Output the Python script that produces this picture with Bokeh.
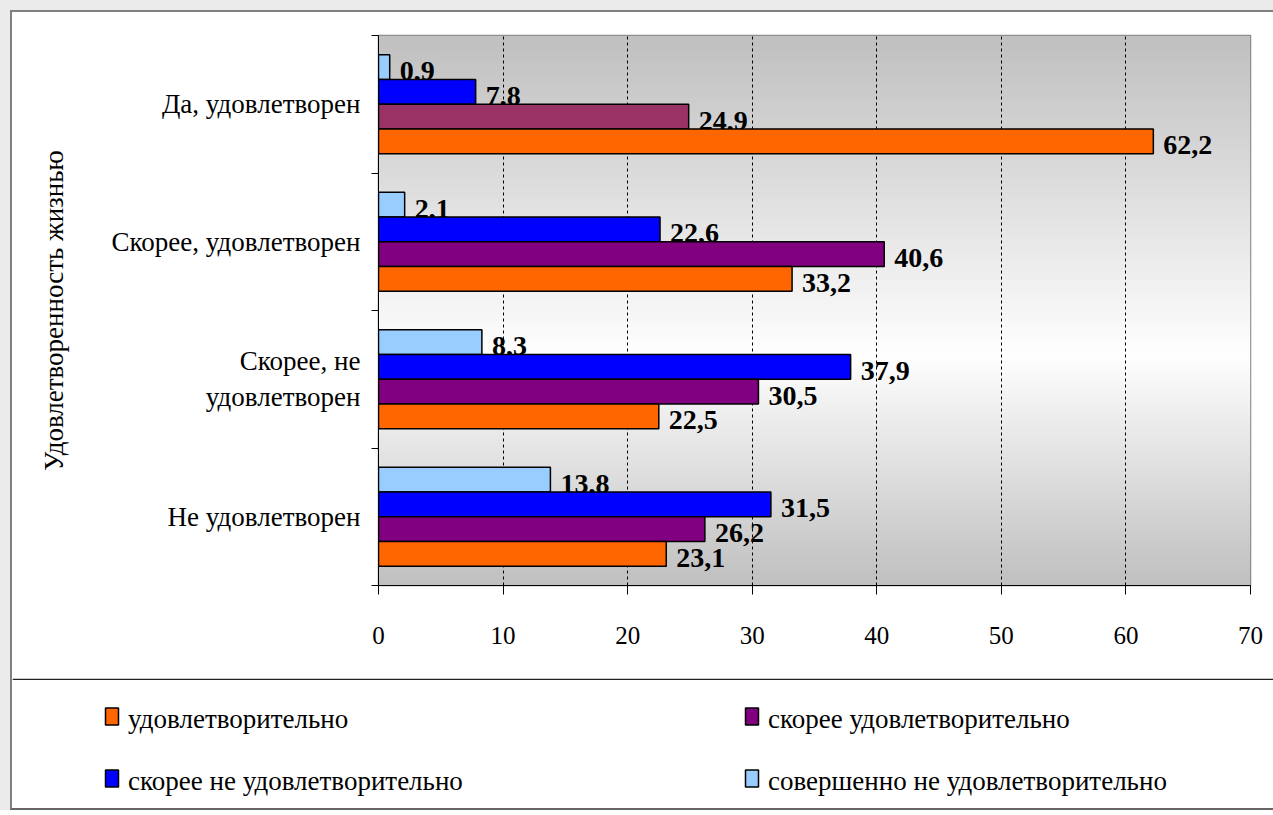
import numpy as np
from bokeh.plotting import figure
from bokeh.layouts import column
from bokeh.models import Range1d, FixedTicker, ColumnDataSource, Span
from bokeh.core.properties import value
from bokeh.embed import file_html
from bokeh.resources import INLINE

# ---------------- data ----------------
categories = ["Да, удовлетворен", "Скорее, удовлетворен",
              "Скорее, не\nудовлетворен", "Не удовлетворен"]
series_names = ["удовлетворительно", "скорее удовлетворительно",
                "скорее не удовлетворительно", "совершенно не удовлетворительно"]
udovl = [62.2, 33.2, 22.5, 23.1]
skoree_udovl = [24.9, 40.6, 30.5, 26.2]
skoree_ne = [7.8, 22.6, 37.9, 31.5]
sovsem_ne = [0.9, 2.1, 8.3, 13.8]
x_ticks = [0, 10, 20, 30, 40, 50, 60, 70]
axis_title = "Удовлетворенность жизнью"

# ---------------- styles ----------------
col_udovl = ["#FF6600"] * 4
col_skoree_udovl = ["#993366", "#800080", "#800080", "#800080"]
col_skoree_ne = ["#0000FF"] * 4
col_sovsem_ne = ["#99CCFF"] * 4
legend_colors = ["#FF6600", "#800080", "#0000FF", "#99CCFF"]
SERIF = "Liberation Serif"

n = len(categories)
centers = [n - 0.5 - i for i in range(n)]
h = 0.18

W = 1261
p = figure(width=W, height=666, output_backend="svg", toolbar_location=None,
           x_range=Range1d(0, 70), y_range=Range1d(0, n),
           min_border_left=366, min_border_right=23,
           min_border_top=23, min_border_bottom=93)
p.frame_align = False
p.border_fill_color = "white"
p.background_fill_color = "#c0c0c0"
p.outline_line_color = "#808080"
p.outline_line_width = 1.5

# gradient background of plot area (grey - white - grey)
N = 300
t = np.linspace(0, 1, N)
tc = 0.42
s = np.where(t < tc, t / tc, (1 - t) / (1 - tc))
g = (192 + 63 * s).astype(np.uint8)
img = np.empty((N, 1), dtype=np.uint32)
view = img.view(dtype=np.uint8).reshape((N, 1, 4))
view[:, 0, 0] = g
view[:, 0, 1] = g
view[:, 0, 2] = g
view[:, 0, 3] = 255
p.image_rgba(image=[img], x=0, y=0, dw=70, dh=n, level="image")

# grid
p.ygrid.visible = False
p.xgrid.ticker = FixedTicker(ticks=x_ticks[1:-1])
p.xgrid.grid_line_color = "black"
p.xgrid.grid_line_dash = "3 3"
p.xgrid.grid_line_width = 1

# x axis
xa = p.xaxis[0]
xa.ticker = FixedTicker(ticks=x_ticks)
xa.axis_line_color = "black"
xa.major_tick_line_color = "black"
xa.major_tick_out = 9
xa.major_tick_in = 0
xa.minor_tick_line_color = None
xa.major_label_text_font = SERIF
xa.major_label_text_font_size = "25px"
xa.major_label_text_color = "black"
xa.major_label_standoff = 32

# y axis
ya = p.yaxis[0]
ya.ticker = FixedTicker(ticks=centers, minor_ticks=list(range(n + 1)))
ya.major_label_overrides = {c: cat for c, cat in zip(centers, categories)}
ya.axis_line_color = "black"
ya.major_tick_out = 0
ya.major_tick_in = 0
ya.minor_tick_out = 7
ya.minor_tick_in = 0
ya.minor_tick_line_color = "black"
ya.major_label_text_font = SERIF
ya.major_label_text_font_size = "27px"
ya.major_label_text_color = "black"
ya.major_label_standoff = 11
ya.axis_label = axis_title
ya.axis_label_text_font = SERIF
ya.axis_label_text_font_size = "27px"
ya.axis_label_text_font_style = "normal"
ya.axis_label_text_color = "black"
ya.axis_label_standoff = 40

# bars and labels (top bar drawn first so labels are overlapped by lower bars)
series = [
    (sovsem_ne, col_sovsem_ne, 1.5),
    (skoree_ne, col_skoree_ne, 0.5),
    (skoree_udovl, col_skoree_udovl, -0.5),
    (udovl, col_udovl, -1.5),
]
for vals, cols, k in series:
    src = ColumnDataSource(dict(
        y=[c + k * h for c in centers],
        right=vals,
        color=cols,
        label=[f"{v:.1f}".replace(".", ",") for v in vals],
    ))
    p.hbar(y="y", left=0, right="right", height=h, fill_color="color",
           line_color="black", line_width=1.5, source=src)
    p.text(x="right", y="y", text="label", source=src, x_offset=10, y_offset=4,
           text_baseline="middle", text_align="left",
           text_font=value(SERIF), text_font_style="bold",
           text_font_size="28px", text_color="black")

# legend panel below the chart (2 x 2 grid of items, pixel-like coordinates)
LH = 130
pl = figure(width=W, height=LH, output_backend="svg", toolbar_location=None,
            x_range=Range1d(0, W), y_range=Range1d(0, LH),
            x_axis_location=None, y_axis_location=None,
            min_border=0, min_border_left=0, min_border_right=0,
            min_border_top=0, min_border_bottom=0)
pl.frame_align = False
pl.grid.visible = False
pl.outline_line_color = None
pl.background_fill_color = "white"
pl.border_fill_color = "white"
pl.add_layout(Span(location=LH - 0.8, dimension="width", line_color="#222222",
                   line_width=1.6))

col_x = [99.5, 739.5]        # legend column positions (px)
row_y = [LH - 38, LH - 100]  # legend row positions (px)
leg_src = ColumnDataSource(dict(
    x=[col_x[i % 2] for i in range(len(series_names))],
    y=[row_y[i // 2] for i in range(len(series_names))],
    color=legend_colors,
    label=series_names,
))
pl.rect(x="x", y="y", width=13, height=17, fill_color="color",
        line_color="black", line_width=1.5, source=leg_src)
pl.text(x="x", y="y", text="label", source=leg_src, x_offset=16, y_offset=2,
        text_baseline="middle", text_align="left",
        text_font=value(SERIF), text_font_size="27px", text_color="black")

inner = column(p, pl, spacing=0, styles={
    "background-color": "white",
    "border-left": "2px solid #808080",
    "border-top": "2px solid #808080",
    "border-bottom": "2px solid #666666",
})
outer = column(inner, spacing=0, styles={
    "background-color": "#ebebeb",
    "padding-left": "10px",
    "padding-top": "10px",
})

open("out.html", "w").write(file_html(outer, INLINE))
